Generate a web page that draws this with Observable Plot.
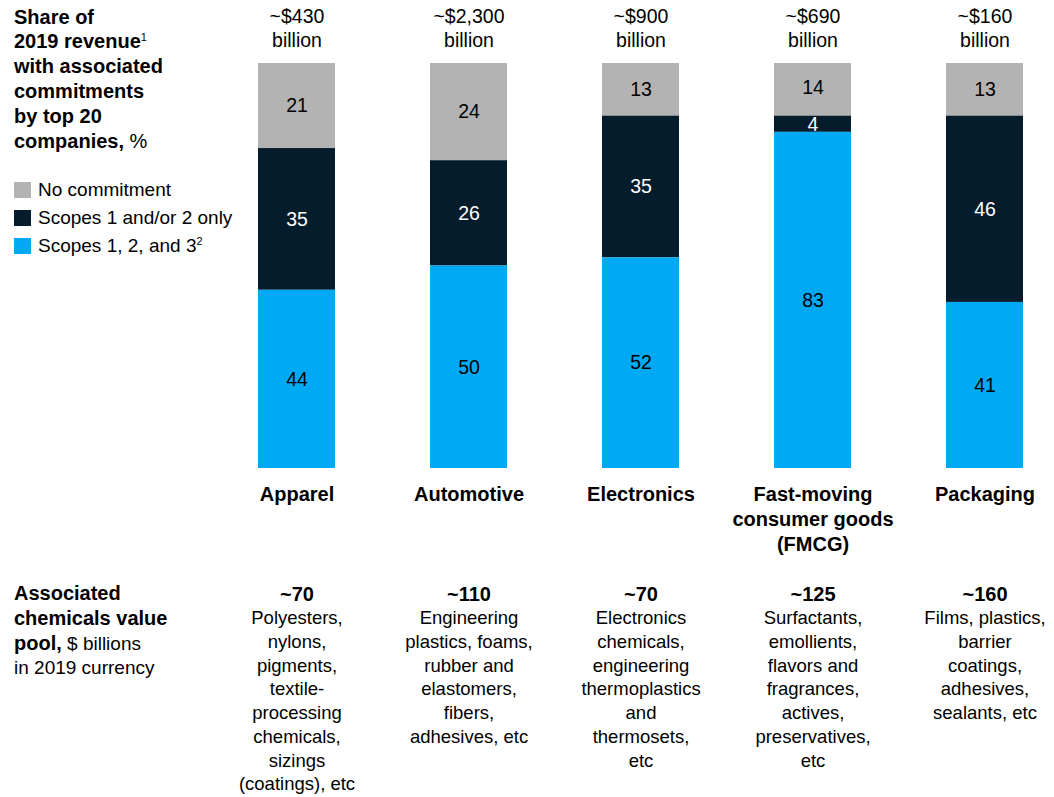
<!DOCTYPE html>
<html>
<head>
<meta charset="utf-8">
<script src="https://cdn.jsdelivr.net/npm/d3@7"></script>
<script src="https://cdn.jsdelivr.net/npm/@observablehq/plot@0.6"></script>
<style>
  html, body { margin: 0; padding: 0; background: #fff; }
  #wrap { position: relative; width: 1054px; height: 797px; font-family: "Liberation Sans", Arial, sans-serif; color: #000; }
  #chart { position: absolute; left: 0; top: 0; }
  .title { position: absolute; left: 14px; top: 4.6px; font-size: 20px; line-height: 24.8px; font-weight: bold; white-space: nowrap; }
  .title .reg { font-weight: normal; }
  sup { font-size: 11px; line-height: 0; vertical-align: 0.6em; font-weight: normal; }
  .legend { position: absolute; left: 14px; top: 175.5px; font-size: 19px; white-space: nowrap; }
  .legend .row { display: flex; align-items: center; height: 28px; }
  .legend .sw { width: 17px; height: 16px; margin-right: 7px; }
  .pool { position: absolute; left: 14px; top: 581px; font-size: 19px; line-height: 24px; white-space: nowrap; }
  .pool b { font-size: 20px; }
</style>
</head>
<body>
<div id="wrap">
  <div id="chart"></div>
  <div class="title">Share of<br>2019 revenue<sup>1</sup><br>with associated<br>commitments<br>by top 20<br>companies, <span class="reg">%</span></div>
  <div class="legend" id="legend"></div>
  <div class="pool"><b>Associated<br>chemicals value<br>pool,</b> $ billions<br>in 2019 currency</div>
</div>
<script>
// ---- Data ----
const sectors = ["Apparel", "Automotive", "Electronics", "FMCG", "Packaging"];
const sectorLabels = ["Apparel", "Automotive", "Electronics", "Fast-moving\nconsumer goods\n(FMCG)", "Packaging"];
const revenue = ["~$430", "~$2,300", "~$900", "~$690", "~$160"];
const series = ["No commitment", "Scopes 1 and/or 2 only", "Scopes 1, 2, and 3"];
const noCommitment = [21, 24, 13, 14, 13];
const scopes12Only = [35, 26, 35, 4, 46];
const scopes123 = [44, 50, 52, 83, 41];
const valuePool = ["~70", "~110", "~70", "~125", "~160"];
const chemicals = [
  "Polyesters,\nnylons,\npigments,\ntextile-\nprocessing\nchemicals,\nsizings\n(coatings), etc",
  "Engineering\nplastics, foams,\nrubber and\nelastomers,\nfibers,\nadhesives, etc",
  "Electronics\nchemicals,\nengineering\nthermoplastics\nand\nthermosets,\netc",
  "Surfactants,\nemollients,\nflavors and\nfragrances,\nactives,\npreservatives,\netc",
  "Films, plastics,\nbarrier\ncoatings,\nadhesives,\nsealants, etc"
];

// ---- Styling ----
const colors = ["#b3b3b3", "#051c2c", "#00a9f4"];
const textColors = ["#000", "#fff", "#000"];
const stackOrder = [series[2], series[1], series[0]];

// ---- Tables ----
const seriesValues = [noCommitment, scopes12Only, scopes123];
const rows = [];
sectors.forEach((s, i) => {
  series.forEach((name, j) => rows.push({sector: s, series: name, value: seriesValues[j][i], si: j}));
});
const sectorRows = sectors.map((s, i) => ({
  sector: s, label: sectorLabels[i], revenue: revenue[i], pool: valuePool[i], chem: chemicals[i]
}));

const font = '"Liberation Sans", Arial, sans-serif';

const chart = Plot.plot({
  width: 1054,
  height: 797,
  marginTop: 0, marginBottom: 0, marginLeft: 0, marginRight: 0,
  style: {fontFamily: font, background: "transparent", color: "#000"},
  x: {domain: sectors, range: [210.5, 1070.5], paddingInner: 0.552, paddingOuter: 0.276, axis: null},
  y: {domain: [0, 100], range: [468, 63], clamp: true, axis: null},
  color: {domain: series, range: colors},
  marks: [
    Plot.barY(rows, {x: "sector", y: "value", fill: "series", z: "series", order: stackOrder}),
    Plot.text(rows, Plot.stackY({
      x: "sector", y: "value", z: "series", order: stackOrder, text: "value",
      fill: (d) => textColors[d.si], fontSize: 19.5
    })),
    Plot.text(sectorRows, {
      x: "sector", y: () => 100, text: (d) => d.revenue + "\nbillion",
      lineAnchor: "middle", lineHeight: 1.23, dy: -36, fontSize: 19.5, fill: "#000"
    }),
    Plot.text(sectorRows, {
      x: "sector", y: () => 0, text: "label", lineAnchor: "top", lineHeight: 1.25,
      dy: 15, fontSize: 20, fontWeight: "bold", fill: "#000"
    }),
    Plot.text(sectorRows, {
      x: "sector", y: () => 0, text: "pool", lineAnchor: "middle",
      dy: 125.6, fontSize: 20, fontWeight: "bold", fill: "#000"
    }),
    Plot.text(sectorRows, {
      x: "sector", y: () => 0, text: "chem", lineAnchor: "top", lineHeight: 1.281,
      dy: 139, fontSize: 18.5, fill: "#000"
    })
  ]
});
document.getElementById("chart").appendChild(chart);

// ---- Legend ----
const legend = document.getElementById("legend");
series.forEach((name, j) => {
  const row = document.createElement("div");
  row.className = "row";
  const sw = document.createElement("div");
  sw.className = "sw";
  sw.style.background = colors[j];
  const label = document.createElement("span");
  label.textContent = name;
  row.appendChild(sw);
  row.appendChild(label);
  if (j === 2) {
    const sup = document.createElement("sup");
    sup.textContent = "2";
    label.appendChild(sup);
  }
  legend.appendChild(row);
});
</script>
</body>
</html>
